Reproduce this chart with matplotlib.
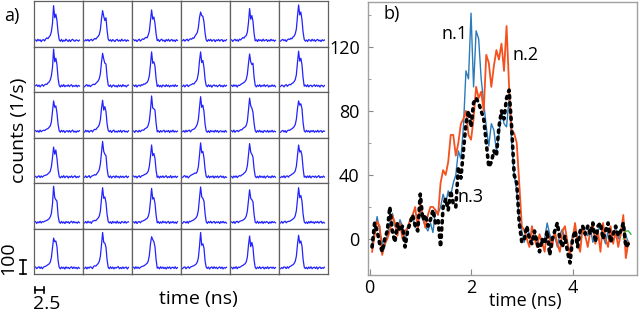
import numpy as np
import matplotlib.pyplot as plt

plt.rcParams['font.family'] = ['Open Sans', 'DejaVu Sans']

# ---- panel a): 6x6 grid of small traces (counts, 40 samples each) ----
small_traces = [
    [3,-6,8,-2,5,-9,2,6,-4,10,18,12,25,35,60,120,245,160,185,140,55,4,-6,7,-9,2,-5,9,-1,-7,5,-8,3,8,-2,-6,4,1,-5,2],
    [-4,5,-2,7,-6,3,8,-3,6,14,9,20,28,40,75,150,210,170,140,160,70,8,-3,5,-7,6,-2,-8,4,7,-5,2,-6,9,-3,0,5,-7,3,-2],
    [6,-3,4,-8,2,9,-5,3,11,7,16,22,18,38,65,140,215,150,165,120,45,-2,6,-8,3,9,-4,2,-9,6,-3,8,-6,1,7,-5,3,-8,5,0],
    [-2,7,-5,3,9,-4,6,12,8,18,15,30,42,55,90,160,200,175,170,130,50,3,-7,6,-3,8,-6,2,5,-9,4,-2,7,-5,3,6,-8,2,-4,5],
    [4,-7,2,8,-3,5,-6,9,3,12,20,16,28,34,58,125,225,150,175,135,48,-3,5,-8,7,-2,4,-6,9,-4,2,6,-7,3,-5,8,-2,4,-6,1],
    [-5,3,7,-2,5,-8,4,10,6,15,11,24,30,46,80,170,250,180,200,145,58,6,-5,3,-8,6,2,-6,8,-3,5,-7,3,7,-4,2,-8,5,-2,3],
    [2,8,-4,6,-7,3,9,-2,7,13,10,22,27,42,70,130,260,170,195,150,52,3,-8,6,-4,9,-6,3,-2,7,-5,4,8,-6,2,-3,6,-7,4,-1],
    [-6,4,9,-3,6,-5,2,8,12,9,18,26,35,50,85,165,230,190,160,155,62,5,-4,7,-9,3,6,-5,2,-8,7,-3,5,-6,9,-2,4,-7,3,6],
    [5,-4,7,-8,3,6,-2,9,5,14,12,20,24,40,72,150,240,160,170,140,50,-4,7,-6,4,-8,6,2,-5,8,-3,5,-7,3,-2,6,-5,8,-4,2],
    [-3,6,-7,4,8,-5,3,7,10,16,13,25,33,48,88,175,240,165,180,130,45,2,-6,8,-4,5,-9,3,7,-2,4,-6,2,8,-5,3,-7,6,-3,4],
    [4,-5,8,-2,6,-8,5,3,9,15,19,24,32,45,82,158,225,170,150,160,60,4,-7,5,-3,8,-6,4,-2,9,-5,3,6,-8,2,-4,7,-3,5,-6],
    [-4,6,2,-7,5,9,-3,6,11,8,17,21,30,44,78,165,245,175,195,150,55,-2,6,-5,8,-7,3,5,-6,2,8,-4,6,-3,4,-8,5,2,-6,3],
    [6,-3,5,-6,9,-2,4,8,6,12,17,20,29,38,66,140,215,170,180,130,48,4,-6,8,-3,6,-8,2,5,-4,7,-6,3,9,-5,2,-7,4,-2,5],
    [-5,8,-2,6,-6,3,7,-4,9,15,12,24,32,46,80,160,220,150,175,140,52,6,-3,7,-8,4,9,-5,2,-6,5,-3,8,-7,3,6,-4,2,-6,4],
    [3,-7,6,2,-5,8,-3,7,10,8,19,23,27,44,75,150,250,165,160,150,58,-3,5,-7,6,-4,3,8,-6,4,-2,7,-8,5,-3,9,-5,3,-4,2],
    [-2,5,-6,8,-3,6,9,-4,8,13,16,22,34,50,84,165,245,170,185,140,50,3,-6,5,-8,7,-2,4,-5,8,-3,6,-7,2,5,-4,3,-6,7,-3],
    [5,-4,9,-6,3,7,-2,5,12,10,20,26,31,42,72,150,235,180,165,135,55,5,-7,6,-4,8,-5,3,-8,6,2,-4,7,-6,4,-3,8,-5,3,-2],
    [-6,3,7,-4,6,-8,5,9,7,14,18,25,33,48,85,160,215,185,195,160,62,4,-5,8,-3,5,-7,6,-2,7,-6,3,-4,8,-5,2,6,-7,4,1],
    [4,-6,3,8,-5,7,-2,6,10,12,15,22,30,40,70,135,210,160,190,130,50,2,-7,5,-4,9,-6,3,6,-8,4,-3,7,-5,2,8,-6,3,-4,5],
    [-3,7,-5,2,9,-6,4,8,11,16,13,24,35,50,90,170,250,180,160,150,58,6,-4,7,-8,3,5,-6,8,-2,4,-7,6,-3,5,-5,2,7,-6,3],
    [6,-2,5,-7,3,8,-4,7,9,13,18,21,28,40,75,145,225,150,165,130,46,-4,6,-8,5,-3,7,-5,3,8,-6,2,-4,9,-7,4,-2,6,-5,3],
    [-4,5,9,-3,6,-7,2,10,14,18,22,28,25,38,72,150,240,170,180,135,52,3,-5,8,-6,4,-2,7,-8,5,-3,6,-6,3,7,-4,5,-8,2,-3],
    [3,-8,6,-2,7,-5,4,9,6,14,17,26,32,45,78,155,235,175,160,140,56,5,-6,4,-7,8,-3,5,-5,6,-8,3,7,-4,2,-6,8,-3,5,-2],
    [-5,4,-3,8,-6,5,7,-2,9,12,19,23,30,42,74,150,225,175,185,150,60,-2,5,-6,7,-4,8,-7,3,5,-3,6,-5,2,9,-6,3,-4,6,-1],
    [5,-7,4,-3,8,-4,6,3,8,11,14,20,26,38,62,130,255,175,160,150,48,3,-6,7,-5,4,-8,6,-2,5,-7,3,8,-4,6,-3,2,-6,5,-2],
    [-3,6,-5,8,-2,4,-7,9,10,15,12,22,30,44,78,165,245,170,180,140,55,6,-4,5,-8,7,-3,4,-6,9,-5,2,-7,6,3,-4,7,-5,2,4],
    [4,-5,7,-8,3,6,-3,8,9,13,17,24,28,42,74,150,240,165,175,135,52,-3,6,-7,4,-5,8,-2,5,-6,3,7,-8,4,-3,6,-5,3,-7,5],
    [-6,5,3,-4,7,-6,8,5,11,14,19,25,33,48,86,170,250,180,170,150,60,4,-7,6,-3,8,-5,2,7,-6,4,-2,5,-8,6,-3,7,-4,3,-5],
    [3,-4,6,-7,5,8,-2,7,10,12,16,21,29,44,80,155,230,170,160,145,55,2,-5,8,-6,3,-4,7,-7,5,-3,6,2,-8,4,-5,7,-2,4,-3],
    [-4,7,-6,4,9,-3,5,8,7,13,18,24,31,46,82,160,245,175,190,150,58,5,-6,3,-8,6,-4,8,-3,4,-7,5,-2,6,-5,3,8,-6,2,-4],
    [6,-5,3,8,-4,7,-6,5,9,12,17,23,28,40,72,140,210,185,190,150,50,4,-7,6,-3,5,-8,7,-2,4,-6,3,8,-5,6,-3,4,-7,5,-2],
    [-3,6,-7,5,-2,8,4,-5,10,15,13,22,30,45,80,160,250,180,175,145,56,3,-6,8,-4,6,-7,4,-2,5,9,-6,3,-5,7,-4,2,6,-8,4],
    [5,-6,8,-3,6,-4,3,9,11,14,19,26,32,48,88,170,220,200,185,150,58,-2,5,-7,8,-3,6,-5,4,-8,6,-2,7,-6,3,5,-4,8,-5,2],
    [-5,4,7,-6,3,8,-3,6,9,13,15,21,27,40,70,150,250,160,170,140,48,5,-4,6,-8,3,7,-5,8,-3,5,-6,2,7,-4,6,-7,3,-2,5],
    [4,-7,5,-3,8,-6,6,3,8,14,17,24,29,42,76,160,225,150,180,145,54,3,-6,5,-3,8,-5,2,6,-7,4,-4,8,-6,3,5,-3,6,-5,2],
    [-6,3,-4,7,5,-5,8,-2,9,12,18,22,31,46,82,165,230,175,190,155,60,6,-5,4,-7,6,-3,8,-6,2,5,-4,7,-8,3,6,-5,2,-3,5],
]
small_t = 0.4 + 0.28 * np.arange(40)   # ns

# ---- panel b): three averaged traces ----
t = np.round(0.05 * np.arange(1, 103), 2)   # 0.05 .. 5.10 ns
n1 = [-3,5,14,5,-2,-5,3,10,16,8,5,12,8,-2,8,11,14,7,10,18,12,8,5,10,4,18,16,20,28,22,
      30,27,35,40,55,50,70,105,100,141,95,130,125,100,85,70,58,72,68,55,65,80,72,70,88,60,40,30,12,5,
      -2,8,3,0,5,-3,2,-4,0,10,3,-2,2,-5,3,6,0,-3,-8,2,5,-3,3,8,5,2,7,-2,0,5,
      8,2,-3,5,0,3,7,0,5,12,2,-2]
n2 = [-8,2,11,8,-10,-3,0,5,15,10,2,10,0,5,7,12,15,20,6,22,15,7,15,20,20,18,15,35,43,40,
      48,65,65,52,60,72,75,80,65,62,75,95,88,92,80,115,110,95,108,118,112,122,105,133,95,68,66,60,35,8,
      5,0,-5,8,0,-5,3,-2,-8,5,0,-5,5,-3,-8,5,8,-2,-10,0,10,-3,-8,8,2,-5,5,10,-3,5,
      -8,10,0,-5,8,-3,5,-5,3,15,-12,-2]
n3 = [-5,10,5,-3,-8,0,5,20,5,-2,10,5,8,-5,5,10,15,8,5,28,12,15,8,12,18,10,12,-5,20,25,
      18,30,22,20,45,38,55,72,80,70,85,88,85,80,75,60,45,48,55,52,70,80,75,88,93,70,40,35,10,-2,
      0,8,0,-3,5,-2,-8,0,-3,5,-10,0,5,10,0,-5,2,-8,-15,0,5,-5,5,8,3,8,3,10,-2,8,
      10,0,5,10,-2,3,8,2,5,10,-5,-3]
t_green = [5.0, 5.05, 5.1, 5.15]
green = [0, 5, 5, 3]

W, H = 640, 314
fig = plt.figure(figsize=(6.4, 3.14), dpi=100)

def fx(px):
    return px / W

def fy(py):
    return 1 - py / H

# grid of small panels
L, R, B, T = fx(34), fx(328), fy(274), fy(1)
cw, ch = (R - L) / 6, (T - B) / 6
for i in range(6):
    for j in range(6):
        ax = fig.add_axes([L + j*cw, T - (i+1)*ch, cw, ch])
        ax.plot(small_t, small_traces[i*6 + j], color='#2222ff', lw=0.9)
        ax.set_xlim(0, 12.2)
        ax.set_ylim(-43, 278)
        ax.set_xticks([])
        ax.set_yticks([])
        for s in ax.spines.values():
            s.set_color('#606060')
            s.set_linewidth(0.9)

fig.text(fx(12), fy(16), 'a)', fontsize=13, va='center', ha='center')
fig.text(fx(19), fy(130), 'counts (1/s)', fontsize=14, rotation=90, va='center', ha='center')
fig.text(fx(198), fy(299), 'time (ns)', fontsize=14, va='center', ha='center')
# scale bars
fig.text(fx(8), fy(258), '100', fontsize=14, rotation=90, va='center', ha='center')
bar = dict(color='k', lw=1.2)
fig.add_artist(plt.Line2D([fx(22.5), fx(22.5)], [fy(260), fy(274)], **bar))
fig.add_artist(plt.Line2D([fx(19.5), fx(25.5)], [fy(260), fy(260)], **bar))
fig.add_artist(plt.Line2D([fx(19.5), fx(25.5)], [fy(274), fy(274)], **bar))
fig.add_artist(plt.Line2D([fx(35), fx(44)], [fy(290), fy(290)], **bar))
fig.add_artist(plt.Line2D([fx(35), fx(35)], [fy(287), fy(293)], **bar))
fig.add_artist(plt.Line2D([fx(44), fx(44)], [fy(287), fy(293)], **bar))
fig.text(fx(47), fy(304), '2.5', fontsize=14, va='center', ha='center')

# right panel
axb = fig.add_axes([fx(368), fy(275), fx(269), 273 / H])
axb.plot(t, n1, color='#2b7bba', lw=1.0)
axb.plot(t, n2, color='#f4511e', lw=1.3)
axb.plot(t_green, green, color='#3cb04a', lw=1.0)
axb.plot(t, n3, color='k', lw=2.6, ls=(0, (0.6, 1.4)), dash_capstyle='round')
axb.set_xlim(-0.03, 5.27)
axb.set_ylim(-22.5, 148)
axb.set_xticks([0, 2, 4])
axb.set_yticks([0, 40, 80, 120])
axb.set_yticks([20, 60, 100, 140], minor=True)
axb.tick_params(axis='both', which='both', direction='in', labelsize=13, color='#888888')
axb.tick_params(axis='y', pad=6)
axb.tick_params(axis='x', pad=3, length=4)
for s in axb.spines.values():
    s.set_color('#a0a0a0')
    s.set_linewidth(1.0)
fig.text(fx(525), fy(301), 'time (ns)', fontsize=13, va='center', ha='center')
fig.text(fx(392), fy(14), 'b)', fontsize=13, va='center', ha='center')
axb.text(0.323, 0.883, 'n.1', fontsize=13, transform=axb.transAxes, ha='center', va='center')
axb.text(0.584, 0.806, 'n.2', fontsize=13, transform=axb.transAxes, ha='center', va='center')
axb.text(0.383, 0.286, 'n.3', fontsize=13, transform=axb.transAxes, ha='center', va='center')

fig.savefig('out.png', dpi=100)
